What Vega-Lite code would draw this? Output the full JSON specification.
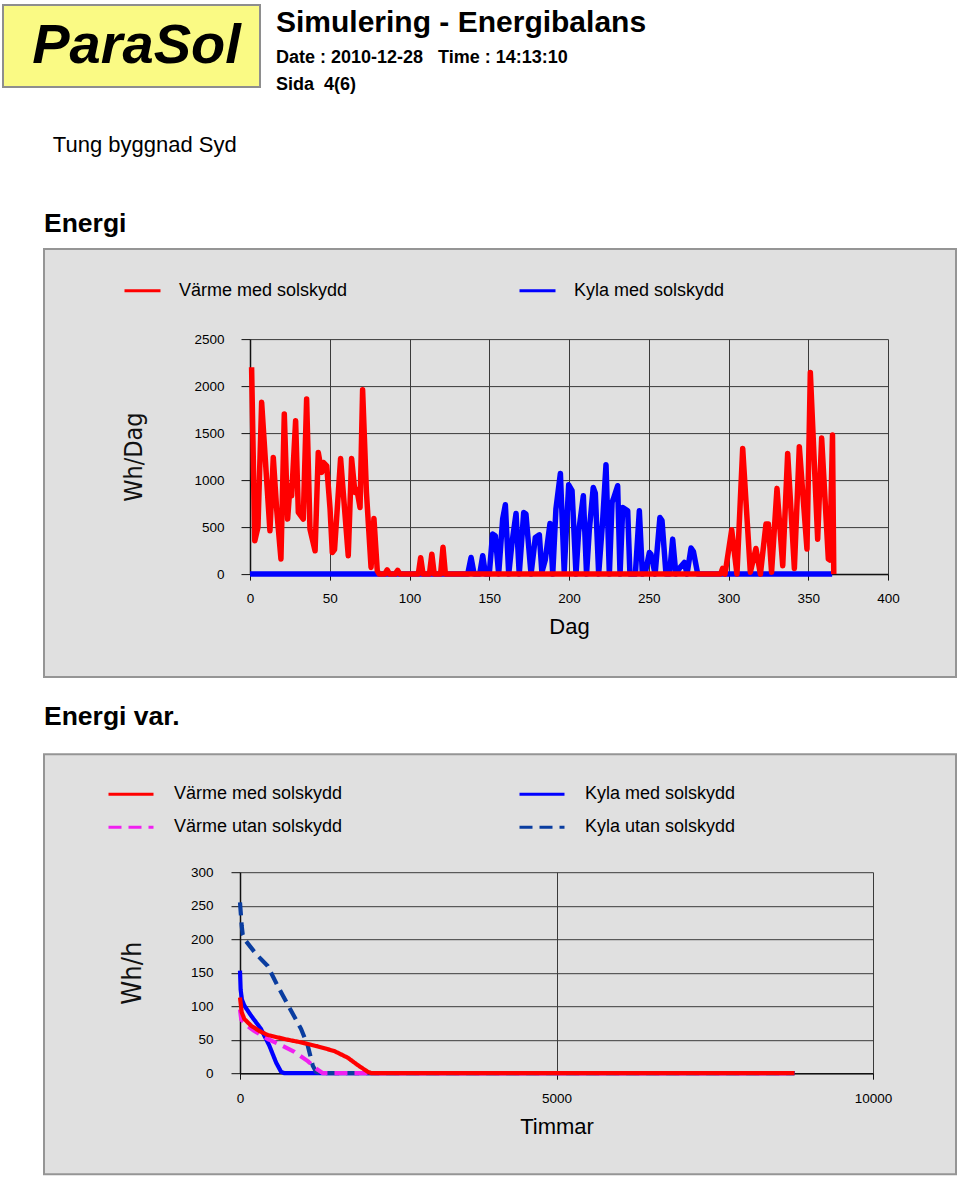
{
  "$schema": "https://vega.github.io/schema/vega-lite/v6.json",
  "background": "white",
  "padding": {"left": 2, "top": 4, "right": 0, "bottom": 0},
  "spacing": 24.1,
  "resolve": {
    "scale": {"color": "independent", "strokeDash": "independent"},
    "legend": {"color": "independent", "strokeDash": "independent"}
  },
  "datasets": {
    "energi": [
      {"serie": "Kyla med solskydd", "dag": 0, "wh": 0},
      {"serie": "Kyla med solskydd", "dag": 136.5, "wh": 0},
      {"serie": "Kyla med solskydd", "dag": 138.6, "wh": 177},
      {"serie": "Kyla med solskydd", "dag": 140.5, "wh": 0},
      {"serie": "Kyla med solskydd", "dag": 144, "wh": 0},
      {"serie": "Kyla med solskydd", "dag": 145.9, "wh": 195},
      {"serie": "Kyla med solskydd", "dag": 147.6, "wh": 0},
      {"serie": "Kyla med solskydd", "dag": 150, "wh": 0},
      {"serie": "Kyla med solskydd", "dag": 152.1, "wh": 426},
      {"serie": "Kyla med solskydd", "dag": 153.8, "wh": 408},
      {"serie": "Kyla med solskydd", "dag": 155.9, "wh": 0},
      {"serie": "Kyla med solskydd", "dag": 158.4, "wh": 585},
      {"serie": "Kyla med solskydd", "dag": 160.1, "wh": 737},
      {"serie": "Kyla med solskydd", "dag": 162.2, "wh": 0},
      {"serie": "Kyla med solskydd", "dag": 164.3, "wh": 337},
      {"serie": "Kyla med solskydd", "dag": 166.8, "wh": 645},
      {"serie": "Kyla med solskydd", "dag": 168.8, "wh": 0},
      {"serie": "Kyla med solskydd", "dag": 171.6, "wh": 656},
      {"serie": "Kyla med solskydd", "dag": 173, "wh": 640},
      {"serie": "Kyla med solskydd", "dag": 176.2, "wh": 0},
      {"serie": "Kyla med solskydd", "dag": 178.9, "wh": 390},
      {"serie": "Kyla med solskydd", "dag": 181.4, "wh": 418},
      {"serie": "Kyla med solskydd", "dag": 183, "wh": 20},
      {"serie": "Kyla med solskydd", "dag": 185.1, "wh": 149},
      {"serie": "Kyla med solskydd", "dag": 188.1, "wh": 539},
      {"serie": "Kyla med solskydd", "dag": 189.8, "wh": 0},
      {"serie": "Kyla med solskydd", "dag": 191.8, "wh": 692},
      {"serie": "Kyla med solskydd", "dag": 194.6, "wh": 1071},
      {"serie": "Kyla med solskydd", "dag": 197, "wh": 30},
      {"serie": "Kyla med solskydd", "dag": 199.8, "wh": 950},
      {"serie": "Kyla med solskydd", "dag": 201.9, "wh": 887},
      {"serie": "Kyla med solskydd", "dag": 204.4, "wh": 0},
      {"serie": "Kyla med solskydd", "dag": 206, "wh": 443},
      {"serie": "Kyla med solskydd", "dag": 209, "wh": 833},
      {"serie": "Kyla med solskydd", "dag": 211, "wh": 0},
      {"serie": "Kyla med solskydd", "dag": 212.7, "wh": 461},
      {"serie": "Kyla med solskydd", "dag": 215.2, "wh": 922},
      {"serie": "Kyla med solskydd", "dag": 216.5, "wh": 860},
      {"serie": "Kyla med solskydd", "dag": 218.6, "wh": 0},
      {"serie": "Kyla med solskydd", "dag": 221.1, "wh": 568},
      {"serie": "Kyla med solskydd", "dag": 223.2, "wh": 1163},
      {"serie": "Kyla med solskydd", "dag": 225.3, "wh": 0},
      {"serie": "Kyla med solskydd", "dag": 227, "wh": 763},
      {"serie": "Kyla med solskydd", "dag": 227.8, "wh": 798},
      {"serie": "Kyla med solskydd", "dag": 230.5, "wh": 940},
      {"serie": "Kyla med solskydd", "dag": 232, "wh": 0},
      {"serie": "Kyla med solskydd", "dag": 233.7, "wh": 709},
      {"serie": "Kyla med solskydd", "dag": 236.8, "wh": 674},
      {"serie": "Kyla med solskydd", "dag": 238.2, "wh": 0},
      {"serie": "Kyla med solskydd", "dag": 241.6, "wh": 0},
      {"serie": "Kyla med solskydd", "dag": 244.1, "wh": 674},
      {"serie": "Kyla med solskydd", "dag": 246, "wh": 0},
      {"serie": "Kyla med solskydd", "dag": 247.9, "wh": 20},
      {"serie": "Kyla med solskydd", "dag": 250.4, "wh": 230},
      {"serie": "Kyla med solskydd", "dag": 251.4, "wh": 210},
      {"serie": "Kyla med solskydd", "dag": 254, "wh": 0},
      {"serie": "Kyla med solskydd", "dag": 257, "wh": 603},
      {"serie": "Kyla med solskydd", "dag": 258.3, "wh": 570},
      {"serie": "Kyla med solskydd", "dag": 260.8, "wh": 0},
      {"serie": "Kyla med solskydd", "dag": 263, "wh": 0},
      {"serie": "Kyla med solskydd", "dag": 265, "wh": 372},
      {"serie": "Kyla med solskydd", "dag": 267, "wh": 0},
      {"serie": "Kyla med solskydd", "dag": 269.6, "wh": 70},
      {"serie": "Kyla med solskydd", "dag": 272.3, "wh": 124},
      {"serie": "Kyla med solskydd", "dag": 274, "wh": 0},
      {"serie": "Kyla med solskydd", "dag": 276.5, "wh": 277},
      {"serie": "Kyla med solskydd", "dag": 278, "wh": 240},
      {"serie": "Kyla med solskydd", "dag": 280.7, "wh": 0},
      {"serie": "Kyla med solskydd", "dag": 365, "wh": 0},
      {"serie": "Värme med solskydd", "dag": 1, "wh": 2200},
      {"serie": "Värme med solskydd", "dag": 3, "wh": 354},
      {"serie": "Värme med solskydd", "dag": 5, "wh": 500},
      {"serie": "Värme med solskydd", "dag": 7.3, "wh": 1827},
      {"serie": "Värme med solskydd", "dag": 12.5, "wh": 461},
      {"serie": "Värme med solskydd", "dag": 14.6, "wh": 1241},
      {"serie": "Värme med solskydd", "dag": 16.7, "wh": 692},
      {"serie": "Värme med solskydd", "dag": 19.4, "wh": 160},
      {"serie": "Värme med solskydd", "dag": 21.5, "wh": 1702},
      {"serie": "Värme med solskydd", "dag": 23.6, "wh": 585},
      {"serie": "Värme med solskydd", "dag": 25.1, "wh": 940},
      {"serie": "Värme med solskydd", "dag": 26.1, "wh": 833},
      {"serie": "Värme med solskydd", "dag": 28.6, "wh": 1631},
      {"serie": "Värme med solskydd", "dag": 30.3, "wh": 656},
      {"serie": "Värme med solskydd", "dag": 33.4, "wh": 585},
      {"serie": "Värme med solskydd", "dag": 35.5, "wh": 1862},
      {"serie": "Värme med solskydd", "dag": 37.6, "wh": 479},
      {"serie": "Värme med solskydd", "dag": 40.8, "wh": 248},
      {"serie": "Värme med solskydd", "dag": 42.8, "wh": 1294},
      {"serie": "Värme med solskydd", "dag": 45, "wh": 1082},
      {"serie": "Värme med solskydd", "dag": 46, "wh": 1188},
      {"serie": "Värme med solskydd", "dag": 48.1, "wh": 1152},
      {"serie": "Värme med solskydd", "dag": 50.2, "wh": 692},
      {"serie": "Värme med solskydd", "dag": 51.6, "wh": 230},
      {"serie": "Värme med solskydd", "dag": 53, "wh": 260},
      {"serie": "Värme med solskydd", "dag": 56.8, "wh": 1230},
      {"serie": "Värme med solskydd", "dag": 61.6, "wh": 195},
      {"serie": "Värme med solskydd", "dag": 63.7, "wh": 1230},
      {"serie": "Värme med solskydd", "dag": 65.8, "wh": 869},
      {"serie": "Värme med solskydd", "dag": 67, "wh": 900},
      {"serie": "Värme med solskydd", "dag": 69, "wh": 709},
      {"serie": "Värme med solskydd", "dag": 70.6, "wh": 1961},
      {"serie": "Värme med solskydd", "dag": 73, "wh": 870},
      {"serie": "Värme med solskydd", "dag": 75.9, "wh": 71},
      {"serie": "Värme med solskydd", "dag": 77.7, "wh": 592},
      {"serie": "Värme med solskydd", "dag": 79.8, "wh": 35},
      {"serie": "Värme med solskydd", "dag": 81, "wh": 0},
      {"serie": "Värme med solskydd", "dag": 84.5, "wh": 0},
      {"serie": "Värme med solskydd", "dag": 86, "wh": 45},
      {"serie": "Värme med solskydd", "dag": 87.5, "wh": 0},
      {"serie": "Värme med solskydd", "dag": 91, "wh": 0},
      {"serie": "Värme med solskydd", "dag": 92.6, "wh": 40},
      {"serie": "Värme med solskydd", "dag": 94, "wh": 0},
      {"serie": "Värme med solskydd", "dag": 105.5, "wh": 0},
      {"serie": "Värme med solskydd", "dag": 107, "wh": 175},
      {"serie": "Värme med solskydd", "dag": 108.5, "wh": 0},
      {"serie": "Värme med solskydd", "dag": 112.5, "wh": 0},
      {"serie": "Värme med solskydd", "dag": 114, "wh": 212},
      {"serie": "Värme med solskydd", "dag": 115.5, "wh": 0},
      {"serie": "Värme med solskydd", "dag": 119.5, "wh": 0},
      {"serie": "Värme med solskydd", "dag": 121, "wh": 285},
      {"serie": "Värme med solskydd", "dag": 122.5, "wh": 0},
      {"serie": "Värme med solskydd", "dag": 295, "wh": 0},
      {"serie": "Värme med solskydd", "dag": 296.3, "wh": 60},
      {"serie": "Värme med solskydd", "dag": 297.8, "wh": 0},
      {"serie": "Värme med solskydd", "dag": 302, "wh": 471},
      {"serie": "Värme med solskydd", "dag": 305.3, "wh": 0},
      {"serie": "Värme med solskydd", "dag": 308.9, "wh": 1337},
      {"serie": "Värme med solskydd", "dag": 313.7, "wh": 20},
      {"serie": "Värme med solskydd", "dag": 317.2, "wh": 273},
      {"serie": "Värme med solskydd", "dag": 320, "wh": 0},
      {"serie": "Värme med solskydd", "dag": 323.5, "wh": 532},
      {"serie": "Värme med solskydd", "dag": 325, "wh": 532},
      {"serie": "Värme med solskydd", "dag": 327, "wh": 20},
      {"serie": "Värme med solskydd", "dag": 330.4, "wh": 912},
      {"serie": "Värme med solskydd", "dag": 334, "wh": 89},
      {"serie": "Värme med solskydd", "dag": 337.1, "wh": 1284},
      {"serie": "Värme med solskydd", "dag": 341.3, "wh": 60},
      {"serie": "Värme med solskydd", "dag": 344.4, "wh": 1355},
      {"serie": "Värme med solskydd", "dag": 349.2, "wh": 266},
      {"serie": "Värme med solskydd", "dag": 351.3, "wh": 2145},
      {"serie": "Värme med solskydd", "dag": 355.9, "wh": 372},
      {"serie": "Värme med solskydd", "dag": 358.4, "wh": 1447},
      {"serie": "Värme med solskydd", "dag": 362.6, "wh": 160},
      {"serie": "Värme med solskydd", "dag": 363.5, "wh": 150},
      {"serie": "Värme med solskydd", "dag": 365.2, "wh": 1479},
      {"serie": "Värme med solskydd", "dag": 366, "wh": 0}
    ],
    "variation": [
      {"serie": "Kyla med solskydd", "h": 0, "wh": 153},
      {"serie": "Kyla med solskydd", "h": 10, "wh": 125},
      {"serie": "Kyla med solskydd", "h": 30, "wh": 110},
      {"serie": "Kyla med solskydd", "h": 68, "wh": 101},
      {"serie": "Kyla med solskydd", "h": 174, "wh": 86},
      {"serie": "Kyla med solskydd", "h": 332, "wh": 66},
      {"serie": "Kyla med solskydd", "h": 464, "wh": 41},
      {"serie": "Kyla med solskydd", "h": 570, "wh": 16},
      {"serie": "Kyla med solskydd", "h": 649, "wh": 2},
      {"serie": "Kyla med solskydd", "h": 700, "wh": 0},
      {"serie": "Kyla med solskydd", "h": 8760, "wh": 0},
      {"serie": "Kyla utan solskydd", "h": 0, "wh": 255},
      {"serie": "Kyla utan solskydd", "h": 27, "wh": 220},
      {"serie": "Kyla utan solskydd", "h": 43, "wh": 207},
      {"serie": "Kyla utan solskydd", "h": 95, "wh": 197},
      {"serie": "Kyla utan solskydd", "h": 253, "wh": 178},
      {"serie": "Kyla utan solskydd", "h": 438, "wh": 160},
      {"serie": "Kyla utan solskydd", "h": 596, "wh": 130},
      {"serie": "Kyla utan solskydd", "h": 780, "wh": 98},
      {"serie": "Kyla utan solskydd", "h": 965, "wh": 66},
      {"serie": "Kyla utan solskydd", "h": 1071, "wh": 41},
      {"serie": "Kyla utan solskydd", "h": 1150, "wh": 11},
      {"serie": "Kyla utan solskydd", "h": 1203, "wh": 2},
      {"serie": "Kyla utan solskydd", "h": 1260, "wh": 0},
      {"serie": "Kyla utan solskydd", "h": 8760, "wh": 0},
      {"serie": "Värme utan solskydd", "h": 0, "wh": 95},
      {"serie": "Värme utan solskydd", "h": 20, "wh": 80},
      {"serie": "Värme utan solskydd", "h": 100, "wh": 72},
      {"serie": "Värme utan solskydd", "h": 227, "wh": 63},
      {"serie": "Värme utan solskydd", "h": 438, "wh": 51},
      {"serie": "Värme utan solskydd", "h": 649, "wh": 42},
      {"serie": "Värme utan solskydd", "h": 860, "wh": 32},
      {"serie": "Värme utan solskydd", "h": 1071, "wh": 18},
      {"serie": "Värme utan solskydd", "h": 1229, "wh": 5},
      {"serie": "Värme utan solskydd", "h": 1310, "wh": 0},
      {"serie": "Värme utan solskydd", "h": 8760, "wh": 0},
      {"serie": "Värme med solskydd", "h": 0, "wh": 113},
      {"serie": "Värme med solskydd", "h": 27, "wh": 91},
      {"serie": "Värme med solskydd", "h": 68, "wh": 81},
      {"serie": "Värme med solskydd", "h": 174, "wh": 71},
      {"serie": "Värme med solskydd", "h": 306, "wh": 63},
      {"serie": "Värme med solskydd", "h": 438, "wh": 57},
      {"serie": "Värme med solskydd", "h": 701, "wh": 51},
      {"serie": "Värme med solskydd", "h": 965, "wh": 46},
      {"serie": "Värme med solskydd", "h": 1229, "wh": 40},
      {"serie": "Värme med solskydd", "h": 1492, "wh": 33},
      {"serie": "Värme med solskydd", "h": 1704, "wh": 23},
      {"serie": "Värme med solskydd", "h": 1862, "wh": 12},
      {"serie": "Värme med solskydd", "h": 2020, "wh": 2},
      {"serie": "Värme med solskydd", "h": 2080, "wh": 0},
      {"serie": "Värme med solskydd", "h": 8760, "wh": 0}
    ],
    "logo": [{"namn": "ParaSol"}]
  },
  "vconcat": [
    {
      "width": 257,
      "height": 82,
      "view": {"fill": "#fafa84", "stroke": "#8e8e8e", "strokeWidth": 2},
      "title": {
        "text": "Simulering - Energibalans",
        "subtitle": ["Date : 2010-12-28\u00a0\u00a0 Time : 14:13:10", "Sida\u00a0 4(6)"],
        "anchor": "start",
        "frame": "bounds",
        "offset": 0,
        "dx": 273,
        "dy": 89,
        "font": "Liberation Sans",
        "fontSize": 30,
        "fontWeight": "bold",
        "color": "#000000",
        "subtitleFont": "Liberation Sans",
        "subtitleFontSize": 18,
        "subtitleFontWeight": "bold",
        "subtitleColor": "#000000",
        "subtitlePadding": 11,
        "subtitleLineHeight": 27.5
      },
      "data": {"name": "logo"},
      "mark": {"type": "text", "font": "Liberation Sans", "fontSize": 56, "fontWeight": "bold", "fontStyle": "italic", "color": "#000000", "dx": 5},
      "encoding": {"text": {"field": "namn", "type": "nominal"}}
    },
    {
      "spacing": 0,
      "resolve": {
        "scale": {"color": "independent", "strokeDash": "independent"},
        "legend": {"color": "independent", "strokeDash": "independent"}
      },
      "hconcat": [
        {"width": 40, "height": 10, "data": {"values": []}, "mark": "point"},
        {
          "width": 912,
          "height": 428,
          "view": {"fill": "#e0e0e0", "stroke": "#959595", "strokeWidth": 2},
          "title": {
            "text": ["", "\u200b\u2009\u2009Tung byggnad Syd"],
            "subtitle": "Energi",
            "anchor": "start",
            "frame": "bounds",
            "offset": 10.4,
            "font": "Liberation Sans",
            "fontSize": 22,
            "fontWeight": "normal",
            "lineHeight": 13.7,
            "color": "#000000",
            "subtitleFont": "Liberation Sans",
            "subtitleFontSize": 26.5,
            "subtitleFontWeight": "bold",
            "subtitleColor": "#000000",
            "subtitlePadding": 54.2
          },
          "data": {"name": "energi"},
          "resolve": {"axis": {"x": "independent", "y": "independent"}},
          "layer": [
            {
              "mark": {"type": "line", "strokeWidth": 5.5, "strokeJoin": "round"},
              "encoding": {
                "x": {
                  "field": "dag",
                  "type": "quantitative",
                  "scale": {"domain": [0, 400], "range": [206, 844], "nice": false, "zero": false},
                  "axis": {
                    "orient": "bottom",
                    "offset": -103,
                    "grid": false,
                    "values": [0, 50, 100, 150, 200, 250, 300, 350, 400],
                    "format": "d",
                    "tickSize": 6,
                    "labelPadding": 11,
                    "title": "Dag",
                    "titleFontSize": 22,
                    "titlePadding": 12
                  }
                },
                "y": {
                  "field": "wh",
                  "type": "quantitative",
                  "scale": {"domain": [0, 2500], "range": [325, 90], "nice": false},
                  "axis": {
                    "orient": "left",
                    "offset": -206,
                    "grid": true,
                    "values": [0, 500, 1000, 1500, 2000, 2500],
                    "format": "d",
                    "tickSize": 9,
                    "labelPadding": 17,
                    "title": "Wh/Dag",
                    "titleFont": "Liberation Sans Narrow, DejaVu Sans Condensed, sans-serif",
                    "titleFontSize": 25,
                    "titleX": -116.5,
                    "titleBaseline": "middle",
                    "titleColor": "#111111"
                  }
                },
                "color": {
                  "field": "serie",
                  "type": "nominal",
                  "scale": {"domain": ["Värme med solskydd", "Kyla med solskydd"], "range": ["#ff0000", "#0000ff"]},
                  "legend": {
                    "orient": "none",
                    "legendX": 79,
                    "legendY": 22,
                    "direction": "horizontal",
                    "columns": 2,
                    "title": null,
                    "symbolType": "stroke",
                    "symbolSize": 1296,
                    "symbolStrokeWidth": 3,
                    "labelFontSize": 18,
                    "labelOffset": 17,
                    "columnPadding": 165,
                    "labelLimit": 400
                  }
                }
              }
            },
            {
              "data": {"values": []},
              "mark": "point",
              "encoding": {
                "x": {
                  "field": "dag",
                  "type": "quantitative",
                  "axis": {
                    "orient": "top",
                    "offset": 0,
                    "grid": true,
                    "domain": false,
                    "ticks": false,
                    "labels": false,
                    "title": null,
                    "values": [0, 50, 100, 150, 200, 250, 300, 350, 400]
                  }
                },
                "y": {"field": "wh", "type": "quantitative", "axis": null}
              }
            }
          ]
        }
      ]
    },
    {
      "spacing": 0,
      "resolve": {
        "scale": {"color": "independent", "strokeDash": "independent"},
        "legend": {"color": "independent", "strokeDash": "independent"}
      },
      "hconcat": [
        {"width": 40, "height": 10, "data": {"values": []}, "mark": "point"},
        {
          "width": 912,
          "height": 420,
          "view": {"fill": "#e0e0e0", "stroke": "#959595", "strokeWidth": 2},
          "title": {
            "text": "Energi var.",
            "anchor": "start",
            "frame": "bounds",
            "offset": 23.9,
            "font": "Liberation Sans",
            "fontSize": 26.5,
            "fontWeight": "bold",
            "color": "#000000"
          },
          "data": {"name": "variation"},
          "resolve": {"axis": {"x": "independent", "y": "independent"}},
          "layer": [
            {
              "mark": {"type": "line", "strokeWidth": 4.2, "strokeJoin": "round"},
              "encoding": {
                "x": {
                  "field": "h",
                  "type": "quantitative",
                  "scale": {"domain": [0, 10000], "range": [196, 829], "nice": false, "zero": false},
                  "axis": {
                    "orient": "bottom",
                    "offset": -101,
                    "grid": false,
                    "values": [0, 5000, 10000],
                    "format": "d",
                    "tickSize": 6,
                    "labelPadding": 12,
                    "title": "Timmar",
                    "titleFontSize": 22,
                    "titlePadding": 12
                  }
                },
                "y": {
                  "field": "wh",
                  "type": "quantitative",
                  "scale": {"domain": [0, 300], "range": [319, 118], "nice": false},
                  "axis": {
                    "orient": "left",
                    "offset": -196,
                    "grid": true,
                    "values": [0, 50, 100, 150, 200, 250, 300],
                    "format": "d",
                    "tickSize": 9,
                    "labelPadding": 18,
                    "title": "Wh/h",
                    "titleFont": "Liberation Sans Narrow, DejaVu Sans Condensed, sans-serif",
                    "titleFontSize": 27,
                    "titleX": -108,
                    "titleBaseline": "middle",
                    "titleColor": "#111111"
                  }
                },
                "color": {
                  "field": "serie",
                  "type": "nominal",
                  "scale": {
                    "domain": ["Värme med solskydd", "Kyla med solskydd", "Värme utan solskydd", "Kyla utan solskydd"],
                    "range": ["#ff0000", "#0000ff", "#f020f0", "#0a3da0"]
                  },
                  "legend": {
                    "orient": "none",
                    "legendX": 63,
                    "legendY": 16,
                    "direction": "horizontal",
                    "columns": 2,
                    "title": null,
                    "symbolType": "stroke",
                    "symbolSize": 2025,
                    "symbolStrokeWidth": 3,
                    "labelFontSize": 18,
                    "labelOffset": 19,
                    "columnPadding": 170,
                    "rowPadding": -18,
                    "labelLimit": 400
                  }
                },
                "strokeDash": {
                  "field": "serie",
                  "type": "nominal",
                  "scale": {
                    "domain": ["Värme med solskydd", "Kyla med solskydd", "Värme utan solskydd", "Kyla utan solskydd"],
                    "range": [[1, 0], [1, 0], [13, 7], [13, 7]]
                  }
                }
              }
            },
            {
              "data": {"values": []},
              "mark": "point",
              "encoding": {
                "x": {
                  "field": "h",
                  "type": "quantitative",
                  "axis": {
                    "orient": "top",
                    "offset": 0,
                    "grid": true,
                    "domain": false,
                    "ticks": false,
                    "labels": false,
                    "title": null,
                    "values": [0, 5000, 10000]
                  }
                },
                "y": {"field": "wh", "type": "quantitative", "axis": null}
              }
            }
          ]
        }
      ]
    }
  ],
  "config": {
    "font": "Liberation Sans",
    "view": {"stroke": null},
    "axis": {
      "labelFont": "Liberation Sans",
      "labelFontSize": 13.5,
      "labelColor": "#000000",
      "labelFlush": false,
      "labelOverlap": false,
      "labelBound": false,
      "domainColor": "#111111",
      "domainWidth": 1.5,
      "tickColor": "#111111",
      "tickWidth": 1,
      "gridColor": "#3a3a3a",
      "gridOpacity": 1,
      "gridWidth": 1,
      "titleFont": "Liberation Sans",
      "titleFontWeight": "normal",
      "titleColor": "#000000"
    },
    "legend": {
      "labelFont": "Liberation Sans",
      "labelColor": "#000000",
      "padding": 0
    }
  }
}
